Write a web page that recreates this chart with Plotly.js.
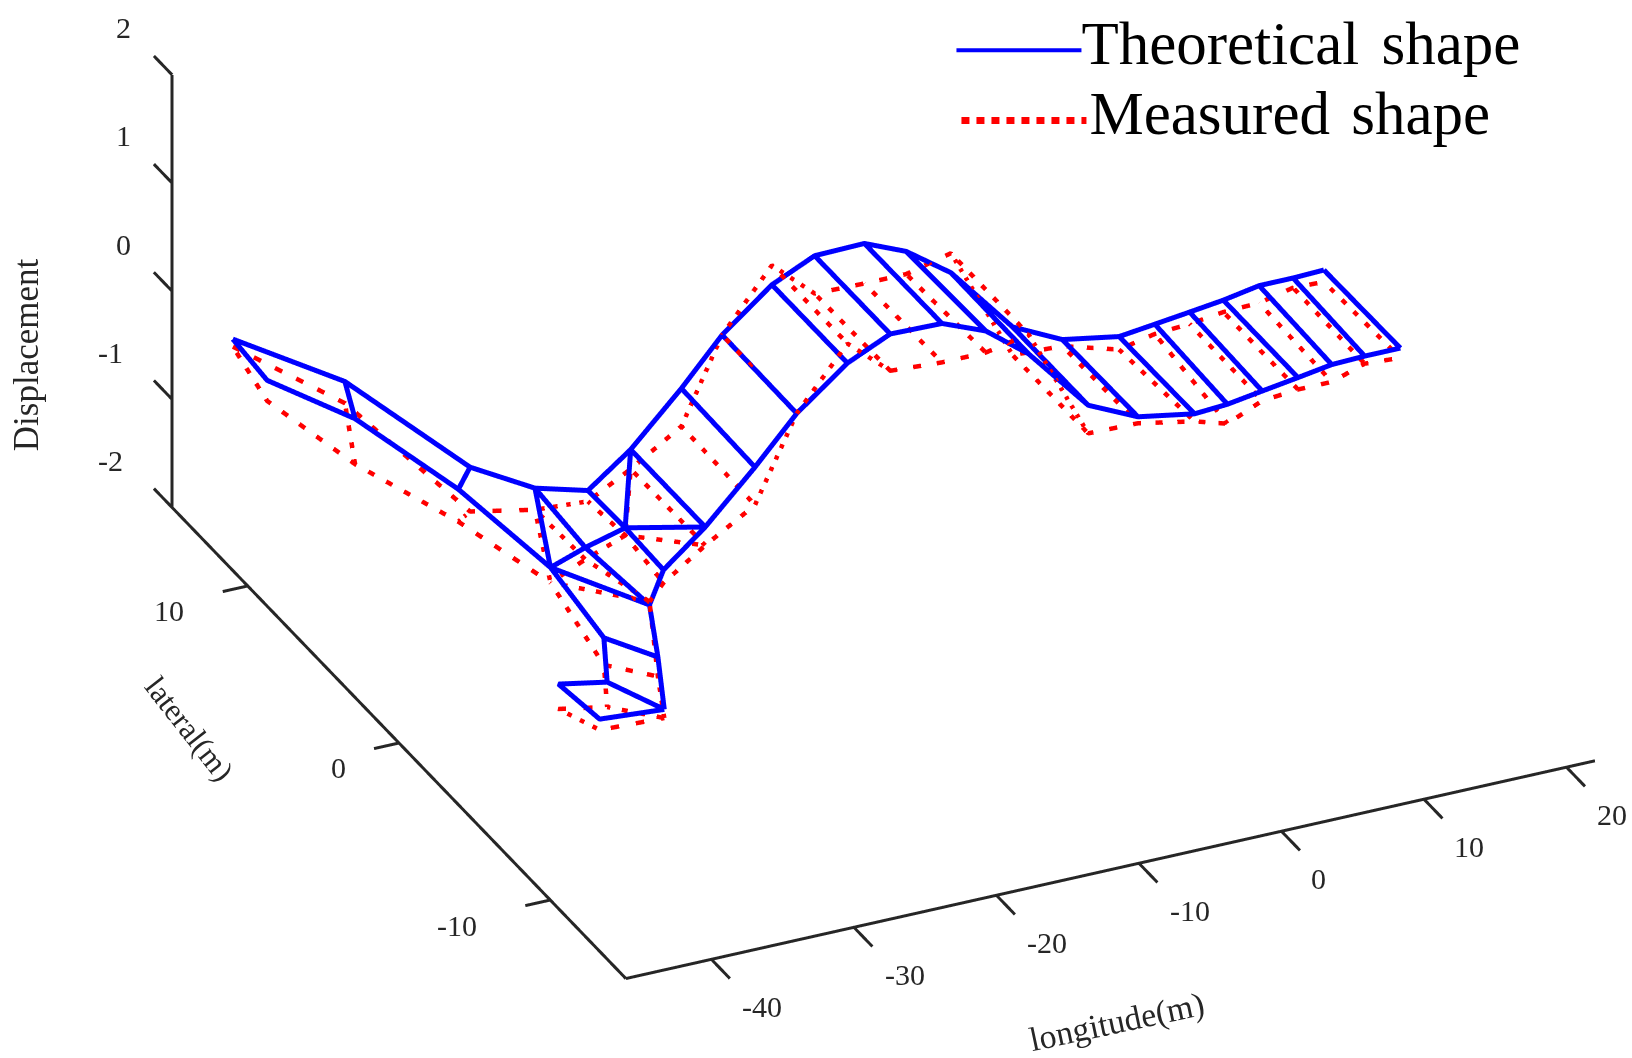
<!DOCTYPE html>
<html><head><meta charset="utf-8">
<script src="https://cdn.plot.ly/plotly-3.0.1.min.js"></script>
<style>html,body{margin:0;padding:0;background:#fff}#g{width:1632px;height:1058px}</style>
</head><body><div id="g"></div>
<script>
const nodeX=[-43.36,-38.65,-43.67,-40.13,-35.59,-37.49,-31.81,-30.09,-27.09,-30.01,-27.27,-30.2,-31.69,-34.72,-32.2,-35.55,-33.5,-37.22,-40.14,-39.71,-35.44,
 -23.53,-20.67,-17.18,-14.18,-10.69,-7.76,-4.62,-0.29,3.2,7.18,9.69,12.13,14.5,17.01,19.39,21.55,
 -23.78,-20.85,-17.29,-14.29,-10.66,-7.59,-4.59,-0.4,3.09,7.06,9.37,11.81,14.32,16.69,19,21.5];
const nodeY=[13.47,10.5,10.91,8.43,5.11,4.09,4.38,2.5,2.5,0.11,-2.6,-2.6,-3.08,0.61,0.68,-3.7,-5.34,-5.49,-5.02,-7.34,-7.59,
 2.5,2.5,2.5,2.5,2.5,2.5,2.5,2.5,2.5,2.5,2.5,2.5,2.5,2.5,2.5,2.5,
 -2.6,-2.6,-2.6,-2.6,-2.6,-2.6,-2.6,-2.6,-2.6,-2.6,-2.6,-2.6,-2.6,-2.6,-2.6,-2.6];
const theoreticalZ=[-0.3,-0.4,-0.3,-0.4,-0.5,-0.5,-0.7,-0.5,-0.21,-0.5,-0.18,-0.49,-0.7,-0.8,-0.7,-0.8,-0.8,-0.9,-0.9,-0.9,-0.9,
 0.25,0.66,1.02,1.2,1.21,1.05,0.76,0.13,-0.09,-0.18,-0.14,-0.1,-0.06,0,0,0.01,
 0.27,0.68,1.04,1.22,1.21,1.05,0.75,0.15,-0.06,-0.15,-0.13,-0.08,-0.03,0.02,0.03,0.03];
const measuredZ=[-0.37,-0.6,-0.49,-0.82,-0.91,-0.8,-0.9,-0.6,-0.39,-0.57,-0.35,-0.61,-0.67,-0.94,-0.81,-1.05,-0.98,-1.13,-1.13,-1,-0.98,
 -0.1,0.66,1.2,0.85,0.84,0.84,0.94,-0.13,-0.15,-0.3,-0.23,-0.21,-0.17,-0.16,-0.09,-0.1,
 -0.08,0.68,1.22,0.88,0.85,0.85,0.93,-0.11,-0.12,-0.22,-0.31,-0.17,-0.14,-0.14,-0.04,-0.06];
const edgePaths=[
 [0,1,4,6,7,8,21,22,23,24,25,26,27,28,29,30,31,32,33,34,35,36],
 [0,2,3,5,13],[12,11,10,37,38,39,40,41,42,43,44,45,46,47,48,49,50,51,52],
 [1,3],[4,5],[6,13],[6,14,12],[13,14,9],[13,12],[7,9,11],[8,9],[8,10],[9,10],
 [12,16,20],[13,15,16],[15,17],[17,20],[17,18,19,20],
 [21,37],[22,38],[23,39],[24,40],[25,41],[26,42],[27,43],[28,44],[29,45],[30,46],[31,47],[32,48],[33,49],[34,50],[35,51],[36,52]];
const xTicks=[-40,-30,-20,-10,0,10,20], yTicks=[-10,0,10], zTicks=[-2,-1,0,1,2];
const seriesNames=['Theoretical shape','Measured shape'];
const xLim=[-46,22], yLim=[-15,15], zLim=[-2,2];
const xTitle='longitude(m)', yTitle='lateral(m)', zTitle='Displacement';

function build(zs){const X=[],Y=[],Z=[];edgePaths.forEach(p=>{p.forEach(i=>{X.push(nodeX[i]);Y.push(nodeY[i]);Z.push(zs[i]);});X.push(null);Y.push(null);Z.push(null);});return {x:X,y:Y,z:Z};}
const fX=[],fY=[],fZ=[];
function seg(a,b){fX.push(a[0],b[0],null);fY.push(a[1],b[1],null);fZ.push(a[2],b[2],null);}
seg([xLim[0],yLim[0],zLim[0]],[xLim[1],yLim[0],zLim[0]]);
seg([xLim[0],yLim[0],zLim[0]],[xLim[0],yLim[1],zLim[0]]);
seg([xLim[0],yLim[1],zLim[0]],[xLim[0],yLim[1],zLim[1]]);
xTicks.forEach(v=>seg([v,yLim[0],zLim[0]],[v,yLim[0]-1.22,zLim[0]]));
yTicks.forEach(v=>seg([xLim[0],v,zLim[0]],[xLim[0]-1.75,v,zLim[0]]));
zTicks.forEach(v=>seg([xLim[0],yLim[1],v],[xLim[0],yLim[1]+1.2,v]));

const az=24.95*Math.PI/180, el=28.88*Math.PI/180, dist=3;
const e=[-Math.sin(az)*Math.cos(el),-Math.cos(az)*Math.cos(el),Math.sin(el)];
const c=[-0.1329,-0.0469,-0.1788];
const serif='"Liberation Serif","Times New Roman",serif';
function axis(range){return {range:range,showgrid:false,zeroline:false,showbackground:false,showspikes:false,showline:false,ticks:'',showticklabels:false,title:{text:''}};}
const tickFont={family:serif,size:30,color:'#262626'};
const ann=[];
function lab(x,y,z,text,xs,ys,font,ang){ann.push({x:x,y:y,z:z,text:text,showarrow:false,xshift:xs,yshift:ys,font:font,textangle:ang||0,xanchor:'center',yanchor:'middle'});}
xTicks.forEach(v=>lab(v,yLim[0],zLim[0],String(v),v<0?51:(v===0?37:45),-47,tickFont));
yTicks.forEach(v=>{const n=String(v).length;lab(xLim[0],v,zLim[0],String(v),n===1?-60:(n===2?-79:-93),-25,tickFont);});
zTicks.forEach(v=>lab(xLim[0],yLim[1],v,String(v),v<0?-62:-49,47,tickFont));
lab(-12,yLim[0],zLim[0],xTitle,7,-152,{family:serif,size:34,color:'#262626'},-12);
lab(xLim[0],0,zLim[0],yTitle,-210,14,{family:serif,size:31,color:'#262626'},52);
lab(xLim[0],yLim[1],0,zTitle,-146,-64,{family:serif,size:35,color:'#262626'},-90);
const traces=[
 Object.assign({type:'scatter3d',mode:'lines',name:seriesNames[0],line:{color:'#0000ff',width:10},hoverinfo:'skip'},build(theoreticalZ)),
 Object.assign({type:'scatter3d',mode:'lines',name:seriesNames[1],line:{color:'#ff0000',width:9,dash:'dot'},hoverinfo:'skip'},build(measuredZ)),
 {type:'scatter3d',mode:'lines',showlegend:false,x:fX,y:fY,z:fZ,line:{color:'#262626',width:6},hoverinfo:'skip'}
];
const layout={width:1632,height:1058,margin:{l:0,r:0,t:0,b:0},paper_bgcolor:'#fff',showlegend:true,
 legend:{x:0.583,y:1.0,xanchor:'left',yanchor:'top',itemwidth:125,font:{family:serif,size:61,color:'#000'},bgcolor:'rgba(0,0,0,0)'},
 scene:{domain:{x:[0,1],y:[0,1]},aspectmode:'manual',aspectratio:{x:2.08,y:2.21,z:0.934},
  camera:{projection:{type:'orthographic'},up:{x:0,y:0,z:1},center:{x:c[0],y:c[1],z:c[2]},eye:{x:c[0]+dist*e[0],y:c[1]+dist*e[1],z:c[2]+dist*e[2]}},
  xaxis:axis([-48,22]),yaxis:axis([-16.3,16.3]),zaxis:axis([-2,2]),annotations:ann}};
function shiftY(el,dy){const m=/translate\(\s*([-\d.]+)[ ,]+([-\d.]+)\s*\)/.exec(el.getAttribute('transform')||'');const x=m?+m[1]:0,y=m?+m[2]:0;el.setAttribute('transform','translate('+x+','+(y+dy)+')');}
const gd=document.getElementById('g');
Plotly.newPlot(gd,traces,layout,{displayModeBar:false}).then(()=>{
 const L=document.querySelector('.legend');
 if(L){
  shiftY(L,-6);
  const rows=L.querySelectorAll('.traces');
  if(rows[1]) shiftY(rows[1],-12);
  rows.forEach((r,i)=>{const p=r.querySelector('.legendlines path');
   if(p){p.setAttribute('transform','translate('+(i?5:0)+',10)');p.style.strokeWidth=i?'7px':'4px';if(i)p.style.strokeDasharray='8px,7px';}
   const t=r.querySelector('.legendtext');
   if(t){t.setAttribute('x',+t.getAttribute('x')+(i?3:-5));t.style.wordSpacing=i?'6px':'7px';}});
  const clip=L.querySelector('.scrollbox');if(clip)clip.removeAttribute('clip-path');
 }
 const sc=gd._fullLayout.scene._scene;
 Object.values(sc.traces).forEach(t=>{if(t.data&&t.data.line&&t.data.line.dash==='dot'&&t.linePlot){t.linePlot.dashScale*=1.7;}});
 if(sc.glplot&&sc.glplot.redraw)sc.glplot.redraw();
});
</script></body></html>
